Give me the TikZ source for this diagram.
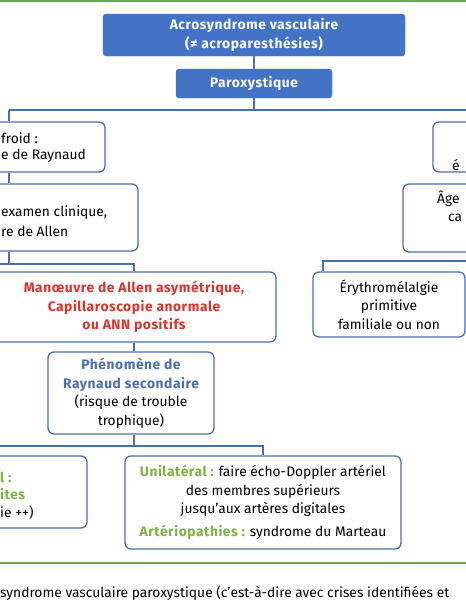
\documentclass[tikz,border=0pt]{standalone}
\usepackage{fontspec}
\setmainfont{Fira Sans}[BoldFeatures={LetterSpace=4}]
\usetikzlibrary{positioning, calc}
\definecolor{AcroBlue}{HTML}{4472C4}
\definecolor{AcroLine}{HTML}{4A6FAF}
\definecolor{AcroGreen}{HTML}{6AA84F}
\definecolor{AcroLime}{HTML}{7CB342}
\definecolor{AcroRed}{HTML}{D9342B}

\begin{document}
\begin{tikzpicture}[x=1pt, y=-1pt,
  every node/.style={font=\fontsize{13.8}{18.5}\selectfont},
  head/.style={draw=AcroBlue, fill=AcroBlue, text=white, rounded corners=3pt,
    font=\fontsize{13.8}{18.5}\selectfont\bfseries, align=center, inner sep=0pt},
  box/.style={draw=AcroLine, line width=1.3pt, rounded corners=6pt, fill=white,
    inner sep=0pt, align=center},
  frag/.style={inner sep=0pt, anchor=west},
  link/.style={AcroLine, line width=1.3pt},
  rule/.style={AcroGreen, line width=2pt}
]
  \useasboundingbox (0,0) rectangle (466,600);
  \clip (0,0) rectangle (466,600);

  % Frame rules
  \coordinate (ruleTL) at (0,1);
  \coordinate (ruleTR) at (466,1);
  \coordinate (ruleBL) at (0,563);
  \coordinate (ruleBR) at (466,563);
  \draw[rule] (ruleTL) -- (ruleTR);
  \draw[rule] (ruleBL) -- (ruleBR);

  % Head
  \node[head, minimum width=302pt, minimum height=42pt] (acro) at (254,35)
    {Acrosyndrome vasculaire\\(≠ acroparesthésies)};
  \node[head, minimum width=156pt, minimum height=29pt] (parox) at (254,83.5)
    {Paroxystique};

  % Split
  \coordinate (splitL) at (9,110);
  \coordinate (splitR) at (480,110);

  % Left branch
  \node[box, minimum width=192pt, minimum height=50pt] (froid) at (9,147) {};
  \node[frag] (froidA) at (1,138) {froid :};
  \node[frag] (froidB) at (1,156) {e de Raynaud};

  \node[box, minimum width=258pt, minimum height=67pt] (exam) at (9,217.5) {};
  \node[frag] (examA) at (1,213) {examen clinique,};
  \node[frag] (examB) at (1,231) {re de Allen};

  \coordinate (forkA) at (-40,264);
  \node[box, minimum width=284pt, minimum height=70pt, text=AcroRed,
    font=\fontsize{13.8}{18.5}\selectfont\bfseries] (allen) at (134,307)
    {Manœuvre de Allen asymétrique,\\Capillaroscopie anormale\\ou ANN positifs};

  \node[box, minimum width=166pt, minimum height=82pt] (phen) at (131,393)
    {\textcolor{AcroLine}{\bfseries Phénomène de}\\
     \textcolor{AcroLine}{\bfseries Raynaud secondaire}\\
     (risque de trouble\\trophique)};

  \coordinate (forkB) at (-40,446);
  \node[box, minimum width=200pt, minimum height=72pt] (bilat) at (-13,492) {};
  \node[frag, text=AcroLime, font=\fontsize{13.8}{18.5}\selectfont\bfseries]
    (bilatA) at (0,477) {l :};
  \node[frag, text=AcroLime, font=\fontsize{13.8}{18.5}\selectfont\bfseries]
    (bilatB) at (0,494) {ites};
  \node[frag] (bilatC) at (0,513) {ie ++)};

  \node[box, minimum width=276pt, minimum height=93pt] (unil) at (263,502.5)
    {\textcolor{AcroLime}{\bfseries Unilatéral :} faire écho-Doppler artériel\\
     des membres supérieurs\\jusqu’aux artères digitales\\[4pt]
     \textcolor{AcroLime}{\bfseries Artériopathies :} syndrome du Marteau};

  % Right branch
  \node[box, minimum width=120pt, minimum height=50pt] (chaud) at (493,147) {};
  \node[frag] (chaudA) at (452,165) {é};

  \node[box, minimum width=180pt, minimum height=68pt] (age) at (493,218) {};
  \node[frag] (ageA) at (437,199) {Âge};
  \node[frag] (ageB) at (448,218) {ca};

  \coordinate (forkC) at (500,261);
  \node[box, minimum width=152pt, minimum height=65pt] (erythro) at (389,304.5)
    {Érythromélalgie\\primitive\\familiale ou non};

  % Caption
  \node[frag] (caption) at (0,593)
    {syndrome vasculaire paroxystique (c’est-à-dire avec crises identifiées et};

  % Links
  \draw[link] (acro) -- (parox);
  \draw[link] (parox.south) -- (parox.south |- splitL);
  \draw[link] (splitL) -- (splitR);
  \draw[link] (splitL) -- (froid.north);
  \draw[link] (froid) -- (exam);
  \draw[link] (exam.south) -- (exam.south |- forkA);
  \draw[link] (forkA) -| (allen.north);
  \draw[link] (allen.south) -- (allen.south |- phen.north);
  \draw[link] (allen.south |- phen.south) -- (allen.south |- forkB);
  \draw[link] (forkB) -| (unil.north);
  \draw[link] (forkC) -| (erythro.north -| 323,0);
\end{tikzpicture}
\end{document}
